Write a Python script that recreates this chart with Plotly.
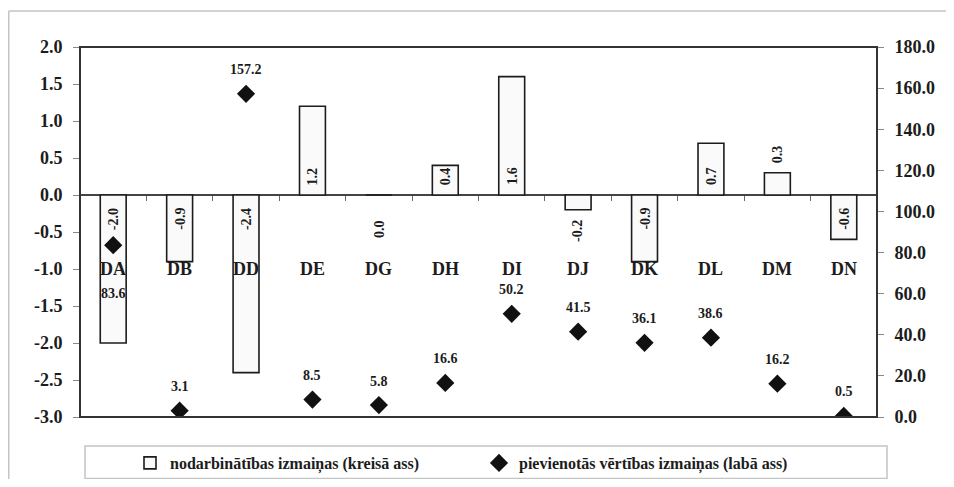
import plotly.graph_objects as go

# ---- data ----
categories = ["DA", "DB", "DD", "DE", "DG", "DH", "DI", "DJ", "DK", "DL", "DM", "DN"]
employment_change = [-2.0, -0.9, -2.4, 1.2, 0.0, 0.4, 1.6, -0.2, -0.9, 0.7, 0.3, -0.6]
value_added_change = [83.6, 3.1, 157.2, 8.5, 5.8, 16.6, 50.2, 41.5, 36.1, 38.6, 16.2, 0.5]
left_tick_labels = ["2.0", "1.5", "1.0", "0.5", "0.0", "-0.5", "-1.0", "-1.5", "-2.0", "-2.5", "-3.0"]
right_tick_labels = ["180.0", "160.0", "140.0", "120.0", "100.0", "80.0", "60.0", "40.0", "20.0", "0.0"]
series_names = ["nodarbinātības izmaiņas (kreisā ass)", "pievienotās vērtības izmaiņas (labā ass)"]

# ---- layout geometry (page body has an 8px margin on every side) ----
OFF = 8
W, H = 954 - 2 * OFF, 487 - 2 * OFF
ML, MT = 80 - OFF, 47 - OFF
MR, MB = W - (877 - OFF), H - (417 - OFF)
PW, PH = W - ML - MR, H - MT - MB


def px_x(p):  # screen px -> paper x
    return (p - OFF - ML) / PW


def px_y(p):  # screen px -> paper y
    return (H - MB - (p - OFF)) / PH


FONT = "Liberation Serif"
INK = "#1c1c1c"

fig = go.Figure()

fig.add_trace(go.Bar(
    x=categories, y=employment_change, name=series_names[0],
    marker=dict(color="#fafafa", line=dict(color=INK, width=1.6)),
    yaxis="y",
))
fig.add_trace(go.Scatter(
    x=categories, y=value_added_change, name=series_names[1], mode="markers",
    marker=dict(symbol="diamond", size=14, color="#111111"),
    yaxis="y2",
))

annotations = []
# category labels (sit at the -1.0 level of the left axis)
for c in categories:
    annotations.append(dict(x=c, y=-1.0, xref="x", yref="y", text=c, showarrow=False,
                            font=dict(family=FONT, size=18, color=INK, weight="bold"),
                            yanchor="middle"))

# bar value labels (rotated)
for c, v in zip(categories, employment_change):
    fits = abs(v) >= 0.4
    if v > 0:
        y, anc, sh = (0, "bottom", 8) if fits else (v, "bottom", 8)
    else:
        y, anc, sh = (0, "top", -11) if fits else (v, "top", -8 if v < 0 else -23)
    annotations.append(dict(x=c, y=y, xref="x", yref="y", text=f"{v:.1f}", showarrow=False,
                            textangle=-90, yanchor=anc, yshift=sh,
                            font=dict(family=FONT, size=14, color=INK, weight="bold")))

# marker value labels
labels_below = {"DA"}
for c, v in zip(categories, value_added_change):
    annotations.append(dict(x=c, y=v, xref="x", yref="y2", text=f"{v:.1f}", showarrow=False,
                            yanchor="middle", yshift=-48 if c in labels_below else 24,
                            font=dict(family=FONT, size=14, color=INK, weight="bold")))

BORDER = dict(color="#c4c4c4", width=1.5)
shapes = [
    # outer chart border: only its left and top edges are inside the picture
    dict(type="line", xref="paper", yref="paper",
         x0=px_x(8.75), x1=px_x(8.75), y0=px_y(11), y1=px_y(520), line=BORDER),
    dict(type="line", xref="paper", yref="paper",
         x0=px_x(8.75), x1=px_x(1000), y0=px_y(11), y1=px_y(11), line=BORDER),
    # plot frame
    dict(type="rect", xref="paper", yref="paper", x0=0, x1=1, y0=0, y1=1,
         line=dict(color="#333333", width=2), fillcolor="rgba(0,0,0,0)"),
    # legend box
    dict(type="rect", xref="paper", yref="paper",
         x0=px_x(85), x1=px_x(887), y0=px_y(478.5), y1=px_y(446),
         line=BORDER, fillcolor="rgba(0,0,0,0)"),
]

left_vals = [float(t) for t in left_tick_labels]
right_vals = [float(t) for t in right_tick_labels]
zero_pos = (0 - min(left_vals)) / (max(left_vals) - min(left_vals))

TICKFONT = dict(family=FONT, size=18, color=INK, weight="bold")

fig.update_layout(
    width=W, height=H, autosize=False,
    margin=dict(l=ML, r=MR, t=MT, b=MB, autoexpand=False),
    paper_bgcolor="white", plot_bgcolor="white",
    font=dict(family=FONT, color=INK),
    bargap=0.61,
    showlegend=True,
    legend=dict(orientation="h", x=px_x(130), xanchor="left", y=px_y(463), yanchor="middle",
                font=dict(family=FONT, size=16, color=INK, weight="bold"),
                bgcolor="rgba(0,0,0,0)", itemwidth=30,
                entrywidth=304, entrywidthmode="pixels"),
    xaxis=dict(type="category", anchor="free", position=zero_pos,
               showticklabels=False, showline=False, showgrid=False, zeroline=False,
               ticks="outside", tickson="boundaries", ticklen=5, tickcolor="#666666", tickwidth=1,
               range=[-0.5, len(categories) - 0.5]),
    yaxis=dict(range=[min(left_vals), max(left_vals)], tickvals=left_vals, ticktext=left_tick_labels,
               showgrid=False, zeroline=True, zerolinecolor="#444444", zerolinewidth=1.5,
               showline=False, ticks="outside", ticklen=6, tickcolor="#888888",
               ticklabelstandoff=7, tickfont=TICKFONT),
    yaxis2=dict(range=[min(right_vals), max(right_vals)], tickvals=right_vals, ticktext=right_tick_labels,
                overlaying="y", side="right", showgrid=False, zeroline=False,
                showline=False, ticks="outside", ticklen=6, tickcolor="#888888",
                ticklabelstandoff=7, tickfont=TICKFONT),
    annotations=annotations,
    shapes=shapes,
)

fig.write_html("out.html")
